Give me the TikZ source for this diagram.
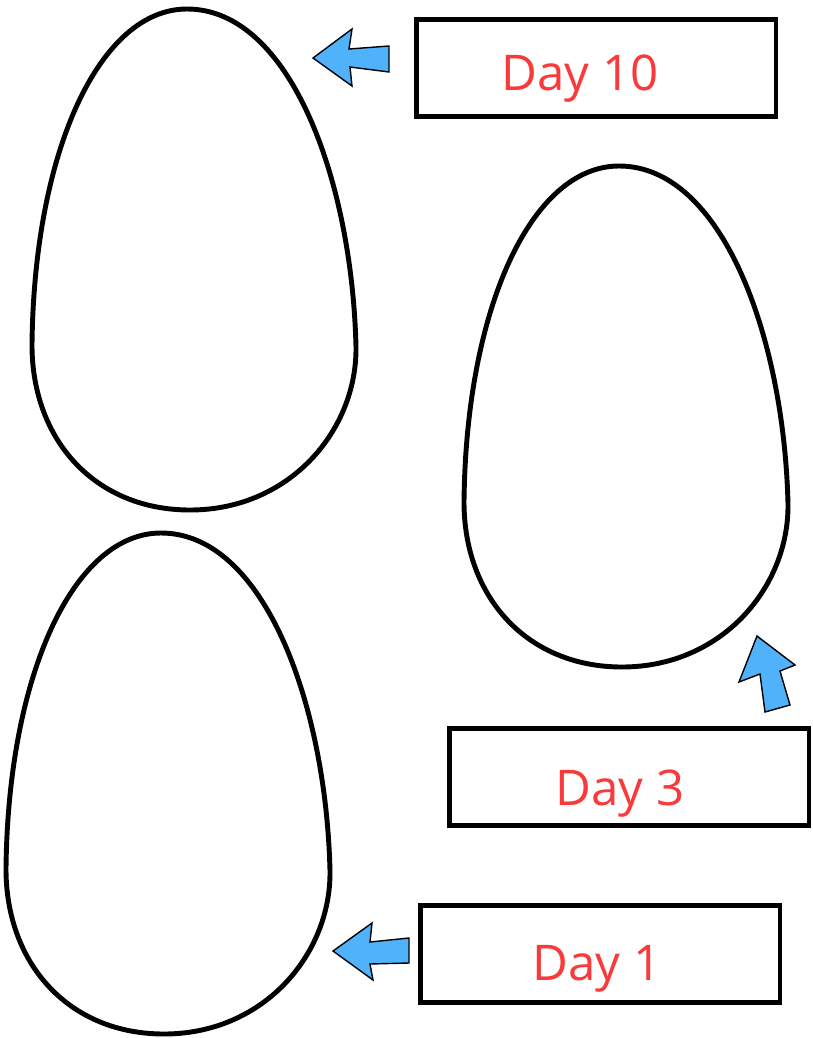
\documentclass[tikz,border=0pt]{standalone}
\usepackage{fontspec}
\setmainfont{Open Sans}
\usepackage{tikz}
\definecolor{daytext}{RGB}{250,58,58}
\definecolor{arrowblue}{RGB}{80,178,250}

\tikzset{
  eggline/.style={line width=2.8pt, line join=round},
  daybox/.style={draw, line width=2.8pt, minimum width=7.2cm, minimum height=1.94cm},
  daylabel/.style={text=daytext, font=\fontsize{28}{33}\selectfont, anchor=base, inner sep=0pt},
  pointer/.style={fill=arrowblue, draw=black, line width=0.8pt, line join=miter},
  egg/.pic={
    \draw[eggline] (187,9) .. controls (100,9) and (34,150) .. (32,345)
      .. controls (32,440) and (95,510) .. (190,510)
      .. controls (290,510) and (357,430) .. (356,347)
      .. controls (352,180) and (290,9) .. (187,9) -- cycle;
  }
}

\begin{document}
\begin{tikzpicture}[x=0.02cm, y=-0.02cm]
\useasboundingbox (0,0) rectangle (813,1038);

% eggs
\pic at (0,0)     {egg};
\pic at (432,157) {egg};
\pic at (-26,524) {egg};

% day boxes
\node[daybox] (d10) at (596,68)  {};
\node[daybox] (d3)  at (629,777) {};
\node[daybox] (d1)  at (600,954) {};

\node[daylabel] (t10) at (580,90)  {Day 10};
\node[daylabel] (t3)  at (620,805) {Day 3};
\node[daylabel] (t1)  at (597,980) {Day 1};

% pointers
\draw[pointer] (313,58) -- (352,29) -- (349,49) -- (389,46) -- (389,72)
  -- (350,67) -- (352,86) -- cycle;
\draw[pointer] (757,636) -- (795,665) -- (780,671) -- (790,705) -- (765,712)
  -- (760,674) -- (739,682) -- cycle;
\draw[pointer] (333,951) -- (372,923) -- (370,942) -- (409,938) -- (409,963)
  -- (370,964) -- (373,980) -- cycle;

\end{tikzpicture}
\end{document}
